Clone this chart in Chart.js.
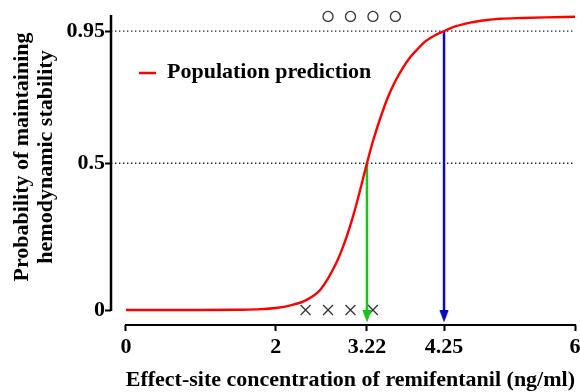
<!DOCTYPE html>
<html>
<head>
<meta charset="utf-8">
<script src="https://cdn.jsdelivr.net/npm/chart.js@4"></script>
<style>
  html, body { margin: 0; padding: 0; background: #fff; }
</style>
</head>
<body>
<canvas id="chart" width="580" height="392"></canvas>
<script>
// population prediction curve
const curveX = [0, 0.5, 1, 1.5, 1.8, 2, 2.2, 2.4, 2.6, 2.8, 2.9, 3, 3.1, 3.22, 3.3, 3.4, 3.5, 3.6, 3.7, 3.8, 3.9, 4, 4.1, 4.25, 4.4, 4.6, 4.8, 5, 5.3, 5.6, 6]
const curveY = [0, 0, 0, 0.001, 0.003, 0.007, 0.016, 0.033, 0.07, 0.155, 0.215, 0.29, 0.38, 0.5, 0.575, 0.655, 0.725, 0.78, 0.825, 0.862, 0.89, 0.915, 0.932, 0.95, 0.966, 0.979, 0.987, 0.992, 0.995, 0.997, 0.999]

// observed responses
const stableX = [2.7, 3.0, 3.3, 3.6]      // circles at probability 1
const unstableX = [2.4, 2.7, 3.0, 3.3]    // crosses at probability 0

// EC50 / EC95 markers
const ec50 = { x: 3.22, y: 0.5 }
const ec95 = { x: 4.25, y: 0.95 }
const refLevels = [0.95, 0.5]

const xTicks = [0, 2, 3.22, 4.25, 6]
const yTicks = [0, 0.5, 0.95]

const xMin = -0.2, xMax = 6
const yMin = -0.051, yMax = 1.005
const arrowEnd = -0.022

const FONT = '"Liberation Serif", "Times New Roman", serif'
const FSIZE = 22

function arrowHead(color) {
    const c = document.createElement('canvas')
    c.width = 10
    c.height = 12
    const g = c.getContext('2d')
    g.fillStyle = color
    g.beginPath()
    g.moveTo(0.5, 0)
    g.lineTo(9.5, 0)
    g.lineTo(5, 12)
    g.closePath()
    g.fill()
    return c
}

const green = 'rgb(20, 200, 20)'
const blue = 'rgb(10, 10, 190)'
const greenHead = arrowHead(green)
const blueHead = arrowHead(blue)

function arrowData(p) {
    return [{ x: p.x, y: p.y }, { x: p.x, y: arrowEnd }]
}

const datasets = [
    {
        label: 'Population prediction',
        data: curveX.map((x, i) => ({ x: x, y: curveY[i] })),
        borderColor: 'rgb(255, 0, 0)',
        borderWidth: 2.4,
        pointRadius: 0,
        cubicInterpolationMode: 'monotone'
    },
    ...refLevels.map(v => ({
        label: 'ref',
        data: [{ x: xMin, y: v }, { x: xMax, y: v }],
        borderColor: '#222',
        borderWidth: 1.3,
        borderDash: [1.4, 2.6],
        pointRadius: 0
    })),
    {
        label: 'ec50',
        data: arrowData(ec50),
        borderColor: green,
        borderWidth: 2.5,
        pointRadius: [0, 6],
        pointStyle: ctx => ctx.dataIndex === 1 ? greenHead : 'circle'
    },
    {
        label: 'ec95',
        data: arrowData(ec95),
        borderColor: blue,
        borderWidth: 2.5,
        pointRadius: [0, 6],
        pointStyle: ctx => ctx.dataIndex === 1 ? blueHead : 'circle'
    },
    {
        label: 'stable',
        data: stableX.map(x => ({ x: x, y: 1 })),
        showLine: false,
        pointStyle: 'circle',
        pointRadius: 5,
        pointBorderWidth: 1.3,
        pointBorderColor: '#333',
        pointBackgroundColor: '#fff',
        clip: false
    },
    {
        label: 'unstable',
        data: unstableX.map(x => ({ x: x, y: 0 })),
        showLine: false,
        pointStyle: 'crossRot',
        pointRadius: 7,
        pointBorderWidth: 1.3,
        pointBorderColor: '#333',
        clip: false
    }
]

const axesPlugin = {
    id: 'axesAndLabels',
    afterDatasetsDraw(chart) {
        const { ctx, scales: { x, y } } = chart
        ctx.save()
        ctx.strokeStyle = '#000'
        ctx.lineWidth = 2.5
        ctx.beginPath()
        ctx.moveTo(x.left, y.top)
        ctx.lineTo(x.left, y.getPixelForValue(0) + 1)
        ctx.stroke()
        ctx.lineWidth = 2
        ctx.beginPath()
        ctx.moveTo(x.getPixelForValue(0) - 1, y.bottom)
        ctx.lineTo(x.getPixelForValue(xMax) + 1, y.bottom)
        ctx.stroke()

        // legend
        const ds = chart.data.datasets[0]
        ctx.strokeStyle = ds.borderColor
        ctx.lineWidth = 2.5
        ctx.beginPath()
        ctx.moveTo(139, 73)
        ctx.lineTo(156, 73)
        ctx.stroke()
        ctx.fillStyle = '#000'
        ctx.font = 'bold ' + FSIZE + 'px ' + FONT
        ctx.textBaseline = 'alphabetic'
        ctx.textAlign = 'left'
        ctx.fillText(ds.label, 167, 78)

        // y axis title
        ctx.translate(0, 157)
        ctx.rotate(-Math.PI / 2)
        ctx.textAlign = 'center'
        ctx.fillText('Probability of maintaining', 0, 28)
        ctx.fillText('hemodynamic stability', 0, 52)
        ctx.restore()
    }
}

new Chart(document.getElementById('chart'), {
    type: 'line',
    data: { datasets: datasets },
    options: {
        responsive: false,
        animation: false,
        devicePixelRatio: 1,
        layout: { autoPadding: false, padding: { left: 0, top: 15, right: 5, bottom: 0 } },
        plugins: { legend: { display: false }, tooltip: { enabled: false } },
        scales: {
            x: {
                type: 'linear',
                min: xMin,
                max: xMax,
                afterBuildTicks: s => { s.ticks = xTicks.map(v => ({ value: v })) },
                afterFit: s => { s.height = 67; s.paddingLeft = 0; s.paddingRight = 0 },
                ticks: {
                    autoSkip: false,
                    maxRotation: 0,
                    padding: 3,
                    color: '#000',
                    font: { family: FONT, size: FSIZE, weight: 'bold' },
                    callback: v => String(v)
                },
                grid: { drawOnChartArea: false, drawTicks: true, tickLength: 6, tickWidth: 2, tickColor: '#000' },
                border: { display: false },
                title: {
                    display: true,
                    text: 'Effect-site concentration of remifentanil (ng/ml)',
                    align: 'end',
                    color: '#000',
                    font: { family: FONT, size: FSIZE, weight: 'bold', lineHeight: 1 },
                    padding: { top: 0, bottom: 1 }
                }
            },
            y: {
                type: 'linear',
                min: yMin,
                max: yMax,
                afterBuildTicks: s => { s.ticks = yTicks.map(v => ({ value: v })) },
                afterFit: s => { s.width = 111; s.paddingTop = 0; s.paddingBottom = 0 },
                ticks: {
                    autoSkip: false,
                    padding: 0,
                    color: '#000',
                    font: { family: FONT, size: FSIZE, weight: 'bold' },
                    callback: v => String(v)
                },
                grid: { drawOnChartArea: false, drawTicks: true, tickLength: 6, tickWidth: 2, tickColor: '#000' },
                border: { display: false }
            }
        }
    },
    plugins: [axesPlugin]
})
</script>
</body>
</html>
